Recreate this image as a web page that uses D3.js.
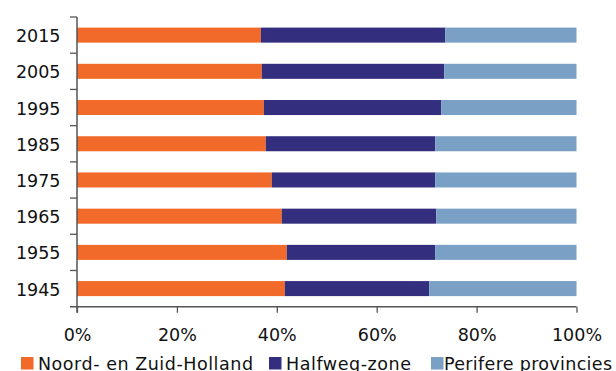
<!DOCTYPE html>
<html><head><meta charset="utf-8">
<script src="https://cdn.jsdelivr.net/npm/d3@7"></script>
<style>body{margin:0;background:#fff}svg{display:block}</style>
</head><body>
<svg id="c" width="616" height="371"></svg>
<script>
const years = ["2015","2005","1995","1985","1975","1965","1955","1945"];
const seriesNames = ["Noord- en Zuid-Holland","Halfweg-zone","Perifere provincies"];
const noordZuidHolland = [36.8,37.0,37.4,37.8,39.0,41.0,42.0,41.6];
const halfwegZone      = [36.9,36.5,35.5,33.9,32.7,30.9,29.7,28.9];
const perifereProv     = [26.3,26.5,27.1,28.3,28.3,28.1,28.3,29.5];
const xTicks = [0,0.2,0.4,0.6,0.8,1];
const colors = ["#F26A2A","#332E7E","#7BA0C5"];

(function(){
const svg = d3.select("#c");
const font = "Verdana, 'DejaVu Sans', sans-serif";
const fs = 17.5;
const mLeft = 77, mRight = 576.5, mTop = 17, mBottom = 306.7;

const rows = years.map((y,i)=>({year:y, a:noordZuidHolland[i], b:halfwegZone[i], c:perifereProv[i]}));
const stack = d3.stack().keys(["a","b","c"]).offset(d3.stackOffsetExpand);
const layers = stack(rows);

const x = d3.scaleLinear().domain([0,1]).range([mLeft,mRight]);
const y = d3.scaleBand().domain(years).range([mTop,mBottom]).paddingInner(0.585).paddingOuter(0.2925);

svg.append("g").selectAll("g").data(layers).join("g")
  .attr("fill",(d,i)=>colors[i])
  .selectAll("rect").data(d=>d).join("rect")
  .attr("x",d=>x(d[0])).attr("width",d=>x(d[1])-x(d[0]))
  .attr("y",d=>y(d.data.year)).attr("height",y.bandwidth());

const yAx = svg.append("g");
const step = (mBottom-mTop)/years.length;
yAx.append("line").attr("x1",mLeft).attr("x2",mLeft).attr("y1",mTop).attr("y2",mBottom+6)
  .attr("stroke","#555").attr("stroke-width",1.5);
d3.range(years.length).forEach(i=>{
  yAx.append("line").attr("x1",mLeft-7).attr("x2",mLeft).attr("y1",mTop+i*step).attr("y2",mTop+i*step)
    .attr("stroke","#555").attr("stroke-width",1.3);
});
yAx.selectAll("text").data(years).join("text")
  .attr("x",60.5).attr("y",d=>y(d)+y.bandwidth()/2+7)
  .attr("text-anchor","end").attr("font-family",font).attr("font-size",fs).attr("fill","#111")
  .text(d=>d);

const xAxis = d3.axisBottom(x).tickValues(xTicks).tickFormat(d3.format(".0%")).tickSize(6).tickSizeOuter(0);
const xg = svg.append("g").attr("transform",`translate(0,${mBottom})`).call(xAxis);
xg.select(".domain").attr("stroke","#555").attr("stroke-width",1.5).attr("d",`M${mLeft-7},0H${mRight}`);
xg.selectAll(".tick line").attr("stroke","#555").attr("stroke-width",1.3);
xg.selectAll(".tick text").attr("font-family",font).attr("font-size",fs).attr("fill","#111")
  .attr("y",34).attr("dy",0);

const legX = [21,269,431];
const legTextX = [38,286,444];
const legW = [215,125,168];
const lg = svg.append("g");
seriesNames.forEach((n,i)=>{
  lg.append("rect").attr("x",legX[i]).attr("y",357).attr("width",12.5).attr("height",12.5).attr("fill",colors[i]);
  lg.append("text").attr("x",legTextX[i]).attr("y",369.5)
    .attr("textLength",legW[i]).attr("lengthAdjust","spacing")
    .attr("font-family",font).attr("font-size",fs).attr("fill","#111").text(n);
});
})();
</script>
</body></html>
